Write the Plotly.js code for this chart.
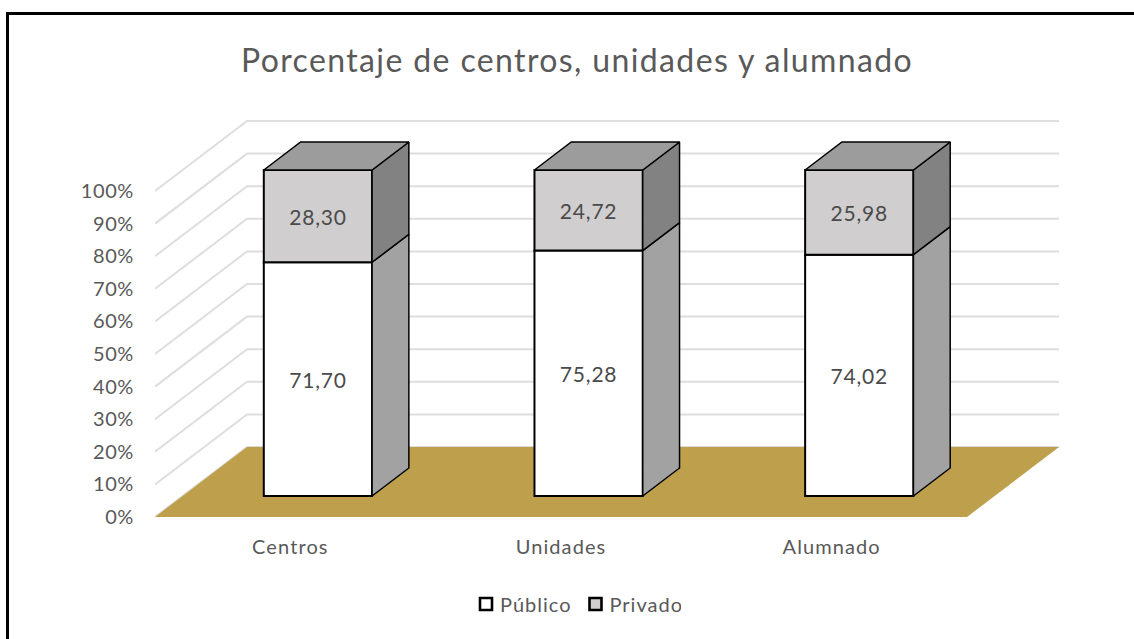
<!DOCTYPE html>
<html>
<head>
<meta charset="utf-8">
<script src="https://cdn.plot.ly/plotly-3.0.1.min.js"></script>
<style>
html,body{margin:0;padding:0;background:#fff;overflow:hidden}
#frame{position:absolute;left:6px;top:12px;right:0;bottom:0;border-top:3px solid #000;border-left:3px solid #000}
#chart{position:absolute;left:0;top:0;width:1134px;height:639px}
#chart .gtitle{letter-spacing:1.38px}
#chart .xtick text{letter-spacing:1.1px}
#chart .ytick text{letter-spacing:0.6px}
#chart .legendtext{letter-spacing:1px}
#chart .bartext{letter-spacing:0.8px}
#chart .legendsymbols{transform:translate(6px,0)}
#chart .legendpoints path{stroke-width:2.6px !important}
</style>
</head>
<body>
<div id="frame"></div>
<div id="chart"></div>
<script>
const categories = ['Centros','Unidades','Alumnado'];
const publico = [71.70,75.28,74.02];
const privado = [28.30,24.72,25.98];
const publicoLabels = ['71,70','75,28','74,02'];
const privadoLabels = ['28,30','24,72','25,98'];
const yTicks = [0,10,20,30,40,50,60,70,80,90,100];
const yTickText = yTicks.map(v => v + '%');

// oblique projection, in axis units
const catPx = 270.67, yPx = 3.26;
const depthX = 92/catPx, depthY = 70/yPx;
const barWidth = 0.4, barDepthStart = 0.3, barDepthEnd = 0.7;
const proj = (x,y,d) => [x + d*depthX, y + d*depthY];
const xs = categories.map((c,i)=>i);

const poly = pts => 'M' + pts.map(p=>p.join(',')).join('L') + 'Z';

const text = '#595959';
const gridShapes = yTicks.map(v => {
  const a = proj(-0.5,v,0), b = proj(-0.5,v,1), c = proj(2.5,v,1);
  return {type:'path',xref:'x',yref:'y',layer:'below',
    path:'M'+a.join(',')+'L'+b.join(',')+'L'+c.join(','),
    line:{color:'#dedede',width:2}};
});
const floor = {type:'path',xref:'x',yref:'y',layer:'below',
  path:poly([proj(-0.5,0,0),proj(2.5,0,0),proj(2.5,0,1),proj(-0.5,0,1)]),
  fillcolor:'#bd9f4c',line:{width:0}};

function faces(fn){
  const X=[],Y=[];
  xs.forEach((x,i)=>{
    fn(x,i).forEach(p=>{X.push(p[0]);Y.push(p[1]);});
    X.push(null);Y.push(null);
  });
  return {X,Y};
}
const side = (x,lo,hi) => {
  const r = x + barWidth/2;
  return [proj(r,lo,barDepthStart),proj(r,lo,barDepthEnd),proj(r,hi,barDepthEnd),proj(r,hi,barDepthStart),proj(r,lo,barDepthStart)];
};
const sidePub = faces((x,i)=>side(x,0,publico[i]));
const sidePri = faces((x,i)=>side(x,publico[i],publico[i]+privado[i]));
const top3d = faces((x,i)=>{
  const h = publico[i]+privado[i], l = x-barWidth/2, r = x+barWidth/2;
  return [proj(l,h,barDepthStart),proj(r,h,barDepthStart),proj(r,h,barDepthEnd),proj(l,h,barDepthEnd),proj(l,h,barDepthStart)];
});
const faceTrace = (f,color) => ({type:'scatter',mode:'lines',x:f.X,y:f.Y,fill:'toself',fillcolor:color,
  line:{color:'#000',width:1.5},showlegend:false,hoverinfo:'skip'});

const barX = xs.map(x=>proj(x,0,barDepthStart)[0]);
const barBase = proj(0,0,barDepthStart)[1];
const labelFont = {family:'Lato, sans-serif',size:21,color:'#4a4a4a'};

const traces = [
 {type:'bar',name:'Público',x:barX,y:publico,base:xs.map(()=>barBase),width:barWidth,
  marker:{color:'#ffffff',line:{color:'#000',width:2}},
  text:publicoLabels,textposition:'inside',insidetextanchor:'middle',textangle:0,
  textfont:labelFont,hoverinfo:'skip'},
 {type:'bar',name:'Privado',x:barX,y:privado,base:publico.map(v=>barBase+v),width:barWidth,
  marker:{color:'#d0cece',line:{color:'#000',width:2}},
  text:privadoLabels,textposition:'inside',insidetextanchor:'middle',textangle:0,
  textfont:labelFont,hoverinfo:'skip'},
 faceTrace(sidePub,'#a2a2a2'),
 faceTrace(sidePri,'#828282'),
 faceTrace(top3d,'#9c9c9c')
];

const layout = {
  width:1134,height:639,
  paper_bgcolor:'rgba(0,0,0,0)',plot_bgcolor:'rgba(0,0,0,0)',
  margin:{l:155,r:73,t:118,b:122,autoexpand:false},
  font:{family:'Lato, sans-serif',color:text},
  barmode:'overlay',
  title:{text:'Porcentaje de centros, unidades y alumnado',x:577/1134,xanchor:'center',xref:'container',
    y:1-61/639,yanchor:'middle',yref:'container',font:{family:'Lato, sans-serif',size:32,color:text}},
  xaxis:{range:[-0.5,-0.5+906/catPx],tickmode:'array',tickvals:xs,ticktext:categories,
    showgrid:false,zeroline:false,showline:false,ticks:'outside',ticklen:12,tickcolor:'rgba(0,0,0,0)',
    tickfont:{family:'Lato, sans-serif',size:20,color:text}},
  yaxis:{range:[0,399/yPx],tickmode:'array',tickvals:yTicks,ticktext:yTickText,
    showgrid:false,zeroline:false,showline:false,ticks:'outside',ticklen:16,tickcolor:'rgba(0,0,0,0)',
    tickfont:{family:'Lato, sans-serif',size:20,color:text}},
  shapes:[...gridShapes,floor],
  legend:{orientation:'h',x:(460-155)/906,xanchor:'left',y:-(604-517)/399,yanchor:'middle',
    font:{family:'Lato, sans-serif',size:20,color:text},bgcolor:'rgba(0,0,0,0)',itemclick:false,itemdoubleclick:false},
  showlegend:true
};
Plotly.newPlot('chart',traces,layout,{displayModeBar:false,staticPlot:true});
</script>
</body>
</html>
